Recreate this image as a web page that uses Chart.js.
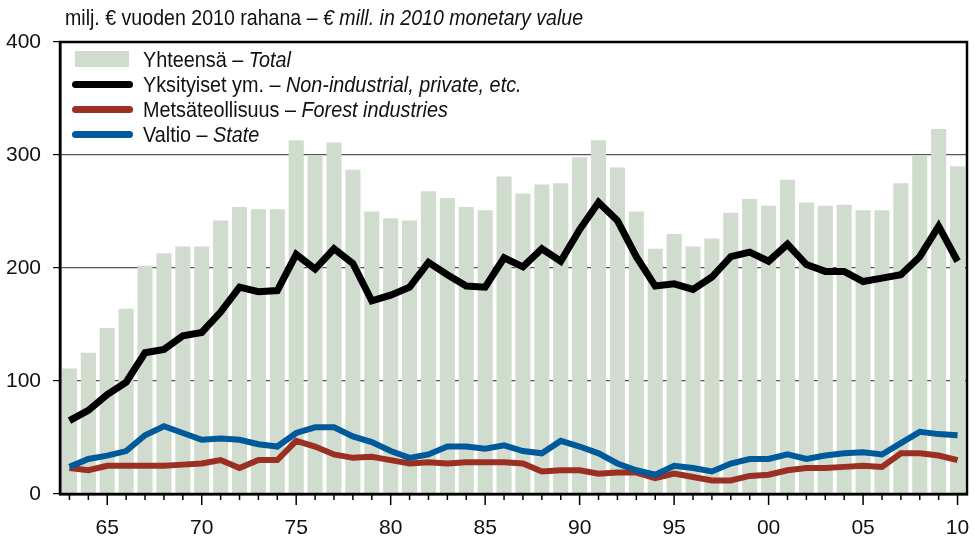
<!DOCTYPE html>
<html>
<head>
<meta charset="utf-8">
<script src="https://cdn.jsdelivr.net/npm/chart.js@4.4.1/dist/chart.umd.min.js"></script>
<style>
    html, body { margin: 0; padding: 0; background: #fff; }
    #wrap { position: relative; width: 974px; height: 538px; font-family: 'Liberation Sans', Arial, sans-serif; color: #111; }
    #chart { position: absolute; left: 0; top: 0; }
    .narrow { display: inline-block; transform: scaleX(0.89); transform-origin: 0 50%; white-space: nowrap; }
    #title { position: absolute; left: 65px; top: 5px; font-size: 22px; white-space: nowrap; }
    #legend { position: absolute; left: 72px; top: 47px; font-size: 22px; }
    #legend .narrow { transform: scaleX(0.9); }
    .row { position: relative; height: 25px; line-height: 25px; white-space: nowrap; padding-left: 71px; }
    .sw { position: absolute; left: 0; }
    .box { left: 3px; top: 4px; width: 54px; height: 16px; background: #d0dccd; }
    .ln { top: 9px; width: 61px; height: 7px; border-radius: 4px; }
</style>
</head>
<body>
<div id="wrap">
    <canvas id="chart" width="974" height="538"></canvas>
    <div id="title"><span class="narrow">milj. € vuoden 2010 rahana – <i>€ mill. in 2010 monetary value</i></span></div>
    <div id="legend">
        <div class="row"><span class="sw box"></span><span class="narrow">Yhteensä – <i>Total</i></span></div>
        <div class="row"><span class="sw ln" style="background:#000"></span><span class="narrow">Yksityiset ym. – <i>Non-industrial, private, etc.</i></span></div>
        <div class="row"><span class="sw ln" style="background:#9a2f22"></span><span class="narrow">Metsäteollisuus – <i>Forest industries</i></span></div>
        <div class="row"><span class="sw ln" style="background:#00599b"></span><span class="narrow">Valtio – <i>State</i></span></div>
    </div>
</div>
<script>
const years = [1963, 1964, 1965, 1966, 1967, 1968, 1969, 1970, 1971, 1972,
    1973, 1974, 1975, 1976, 1977, 1978, 1979, 1980, 1981, 1982,
    1983, 1984, 1985, 1986, 1987, 1988, 1989, 1990, 1991, 1992,
    1993, 1994, 1995, 1996, 1997, 1998, 1999, 2000, 2001, 2002,
    2003, 2004, 2005, 2006, 2007, 2008, 2009, 2010];

const total = [111, 125, 147, 164, 202, 213, 219, 219, 242, 254,
    252, 252, 313, 300, 311, 287, 250, 244, 242, 268,
    262, 254, 251, 281, 266, 274, 275, 298, 313, 289,
    250, 217, 230, 219, 226, 249, 261, 255, 278, 258,
    255, 256, 251, 251, 275, 300, 323, 290];

const private_ = [65, 74, 88, 99, 125, 128, 140, 143, 161, 183,
    179, 180, 212, 199, 217, 204, 171, 176, 183, 205,
    194, 184, 183, 209, 201, 217, 206, 234, 258, 242,
    210, 184, 186, 181, 192, 210, 214, 206, 221, 203,
    197, 197, 188, 191, 194, 210, 237, 206];

const forest = [23, 21, 25, 25, 25, 25, 26, 27, 30, 23,
    30, 30, 47, 42, 35, 32, 33, 30, 27, 28,
    27, 28, 28, 28, 27, 20, 21, 21, 18, 19,
    19, 14, 18, 15, 12, 12, 16, 17, 21, 23,
    23, 24, 25, 24, 36, 36, 34, 30];

const state = [24, 31, 34, 38, 52, 60, 54, 48, 49, 48,
    44, 42, 54, 59, 59, 51, 46, 38, 32, 35,
    42, 42, 40, 43, 38, 36, 47, 42, 36, 27,
    21, 17, 25, 23, 20, 27, 31, 31, 35, 31,
    34, 36, 37, 35, 45, 55, 53, 52];

const yTicks = [0, 100, 200, 300, 400];

const FONT = "'Liberation Sans', Arial, sans-serif";

// year ticks (short, longer every fifth year) and the frame round the plot
const framePlugin = {
    id: "frame",
    afterDraw(chart) {
        const { ctx, chartArea: a, scales } = chart;
        ctx.save();
        ctx.strokeStyle = "#000";
        ctx.lineWidth = 1.5;
        years.forEach((y, i) => {
            const x = scales.x.getPixelForValue(i);
            ctx.beginPath();
            ctx.moveTo(x, a.bottom);
            ctx.lineTo(x, a.bottom + (y % 5 === 0 ? 11 : 6));
            ctx.stroke();
        });
        ctx.lineWidth = 2.5;
        ctx.strokeRect(a.left, a.top, a.right - a.left, a.bottom - a.top);
        ctx.restore();
    }
};

new Chart(document.getElementById("chart"), {
    data: {
        labels: years,
        datasets: [
            { type: "line", data: private_, borderColor: "#000", borderWidth: 7, pointRadius: 0, order: 0 },
            { type: "line", data: state, borderColor: "#00599b", borderWidth: 6, pointRadius: 0, order: 1 },
            { type: "line", data: forest, borderColor: "#9a2f22", borderWidth: 6, pointRadius: 0, order: 2 },
            { type: "bar", data: total, backgroundColor: "#d0dccd", barPercentage: 0.8, categoryPercentage: 1, order: 3 }
        ]
    },
    options: {
        responsive: false,
        animation: false,
        layout: { padding: { top: 42, right: 7, left: 0, bottom: 0 } },
        plugins: { legend: { display: false }, tooltip: { enabled: false } },
        scales: {
            x: {
                offset: true,
                grid: { offset: false, drawOnChartArea: false, tickLength: 20, tickColor: "rgba(0,0,0,0)" },
                border: { display: true, color: "#000", width: 2.5 },
                ticks: {
                    autoSkip: false, maxRotation: 0, padding: 2, color: "#111",
                    font: { family: FONT, size: 21 },
                    callback: (v, i) => years[i] % 5 === 0 ? String(years[i]).slice(2) : ""
                },
                afterFit: s => { s.height = 44; }
            },
            y: {
                min: 0, max: 400,
                afterBuildTicks: s => { s.ticks = yTicks.map(v => ({ value: v })); },
                grid: { color: "#555", lineWidth: 1.2, tickLength: 7, tickColor: "#000" },
                border: { display: true, color: "#000", width: 2.5 },
                ticks: { padding: 12, color: "#111", font: { family: FONT, size: 21 } },
                afterFit: s => { s.width = 60; }
            }
        }
    },
    plugins: [framePlugin]
});
</script>
</body>
</html>
